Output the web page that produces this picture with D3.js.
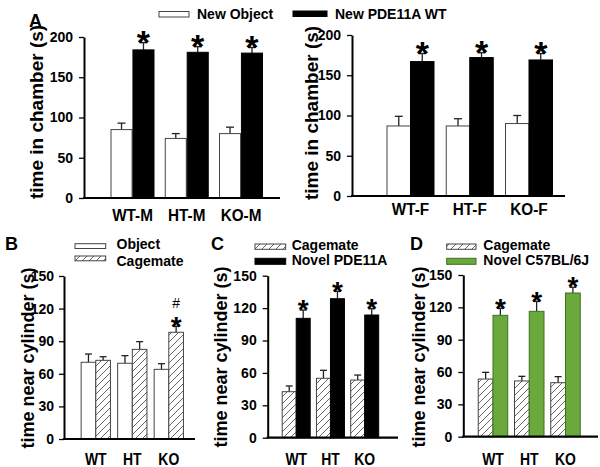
<!DOCTYPE html>
<html><head><meta charset="utf-8">
<script src="https://cdn.jsdelivr.net/npm/d3@7"></script>
<style>
html,body{margin:0;padding:0;background:#fff;}
svg{display:block;font-family:"Liberation Sans",Arial,sans-serif;font-weight:bold;}
</style></head>
<body><svg id="c" width="600" height="467"></svg>
<script>
// ---------- data ----------
const catsAM = ["WT-M","HT-M","KO-M"];
const catsAF = ["WT-F","HT-F","KO-F"];
const catsG  = ["WT","HT","KO"];
const ticksA = [0,50,100,150,200];
const ticksB = [0,30,60,90,120,150];

const newObjM = [85, 74, 80];     const newObjMErr = [8, 6, 8];
const pdeWTM  = [184, 181, 180];  const pdeWTMErr  = [9, 7, 7];
const newObjF = [87, 87, 90];     const newObjFErr = [12, 9, 10];
const pdeWTF  = [167, 172, 169];  const pdeWTFErr  = [10, 6, 8];

const objectB   = [70.6, 69.7, 64.1]; const objectBErr   = [7.6, 7.0, 5.2];
const cagemateB = [72.4, 82.5, 98.2]; const cagemateBErr = [3.3, 7.1, 5.5];
const cagemateC = [42.6, 55.0, 53.4]; const cagemateCErr = [5.3, 7.4, 4.6];
const novelPDE  = [110.5,128.7,113.6];const novelPDEErr  = [7.7, 6.8, 5.8];
const cagemateD = [53.5, 51.7, 50.1]; const cagemateDErr = [6.2, 4.3, 5.6];
const novelC57  = [112.6,116.3,133.3];const novelC57Err  = [6.5, 9.3, 5.3];

const sigA = ["*","*","*"];
const sigB = ["","","#*"];

// ---------- drawing ----------
const svg = d3.select("#c");
const defs = svg.append("defs");
const pat = defs.append("pattern").attr("id","hatch").attr("patternUnits","userSpaceOnUse")
  .attr("width",7).attr("height",7);
pat.append("rect").attr("width",7).attr("height",7).attr("fill","#fff");
pat.append("path").attr("d","M-1,1 l2,-2 M0,7 l7,-7 M6,8 l2,-2")
  .attr("stroke","#555").attr("stroke-width",0.9);

const styles = {
  white: {fill:"#fff", stroke:"#444"},
  black: {fill:"#000", stroke:"#000"},
  hatch: {fill:"url(#hatch)", stroke:"#444"},
  green: {fill:"#6aaa3c", stroke:"#3f6f22"}
};

function panel(o){
  const g = svg.append("g");
  const y = d3.scaleLinear().domain([0,o.max]).range([o.y0,o.yTop]);
  const cx = d3.scalePoint().domain(o.cats).range([o.c0,o.c2]);
  const sub = d3.scaleBand().domain(o.series.map((s,i)=>i)).range([-o.pairW/2,o.pairW/2]).paddingInner(o.gap||0);
  o.series.forEach((s,si)=>{
    const st = styles[s.style];
    o.cats.forEach((c,ci)=>{
      const x = cx(c)+sub(si), w = sub.bandwidth();
      const v = s.values[ci], e = s.err[ci];
      const mid = x+w/2;
      g.append("line").attr("x1",mid).attr("x2",mid).attr("y1",y(v)).attr("y2",y(v+e))
        .attr("stroke","#222").attr("stroke-width",1.3);
      g.append("line").attr("x1",mid-o.cap).attr("x2",mid+o.cap).attr("y1",y(v+e)).attr("y2",y(v+e))
        .attr("stroke","#222").attr("stroke-width",1.3);
      g.append("rect").attr("x",x).attr("y",y(v)).attr("width",w).attr("height",o.y0-y(v))
        .attr("fill",st.fill).attr("stroke",st.stroke).attr("stroke-width",1);
      const sig = s.sig ? s.sig[ci] : "";
      if(sig.includes("*")){
        g.append("text").attr("x",mid).attr("y",y(v+e)-2+o.starSize*0.4).attr("text-anchor","middle")
          .attr("font-size",o.starSize).text("*");
      }
      if(sig.includes("#")){
        g.append("text").attr("x",mid).attr("y",y(v+e)-18).attr("text-anchor","middle")
          .attr("font-size",14).attr("font-weight","normal").text("#");
      }
    });
  });
  const ax = g.append("g").attr("transform",`translate(${o.axisX},0)`)
    .call(d3.axisLeft(y).tickValues(o.ticks).tickSize(5).tickSizeOuter(0).tickPadding(o.tickPad||6));
  ax.select(".domain").attr("stroke","#000").attr("stroke-width",2);
  ax.selectAll(".tick line").attr("stroke","#000").attr("stroke-width",1.3);
  ax.selectAll(".tick text").attr("fill","#000").attr("font-size",o.tickFont||14)
    .attr("font-family","Liberation Sans, Arial, sans-serif").attr("font-weight","bold");
  g.append("line").attr("x1",o.axisX-1).attr("x2",o.axisEnd).attr("y1",o.y0).attr("y2",o.y0)
    .attr("stroke","#000").attr("stroke-width",2.2);
  o.cats.forEach(c=>{
    g.append("text").attr("transform",`translate(${cx(c)},${o.labY}) scale(${o.labSx},1)`)
      .attr("text-anchor","middle").attr("font-size",o.labFont).text(c);
  });
  g.append("text").attr("transform",`translate(${o.titleX},${o.titleY}) rotate(-90)`)
    .attr("text-anchor","middle").attr("font-size",o.titleFont).text(o.title);
}

function legendItem(x,yTop,w,h,style,label,tx,ty,fs){
  const st = styles[style];
  svg.append("rect").attr("x",x).attr("y",yTop).attr("width",w).attr("height",h)
    .attr("fill",st.fill).attr("stroke",st.stroke).attr("stroke-width",1);
  svg.append("text").attr("x",tx).attr("y",ty).attr("font-size",fs).text(label);
}

panel({cats:catsAM, max:200, ticks:ticksA, axisX:84, axisEnd:280, y0:198, yTop:37,
  c0:132.5, c2:241, pairW:43, gap:0.04, cap:4, starSize:34,
  series:[{values:newObjM, err:newObjMErr, style:"white"},
          {values:pdeWTM, err:pdeWTMErr, style:"black", sig:sigA}],
  labY:221, labFont:17, labSx:0.9, title:"time in chamber (s)", titleX:43, titleY:112, titleFont:19});
panel({cats:catsAF, max:200, ticks:ticksA, axisX:352, axisEnd:565, y0:196, yTop:35,
  c0:410.5, c2:529, pairW:47, gap:0, cap:4, starSize:34,
  series:[{values:newObjF, err:newObjFErr, style:"white"},
          {values:pdeWTF, err:pdeWTFErr, style:"black", sig:sigA}],
  labY:215, labFont:17, labSx:0.9, title:"time in chamber (s)", titleX:318, titleY:113, titleFont:19});
panel({cats:catsG, max:150, ticks:ticksB, axisX:64, axisEnd:195, y0:439, yTop:276,
  c0:95.8, c2:168.8, pairW:29.3, gap:0, cap:3.5, starSize:28, tickPad:5,
  series:[{values:objectB, err:objectBErr, style:"white"},
          {values:cagemateB, err:cagemateBErr, style:"hatch", sig:sigB}],
  labY:465, labFont:16, labSx:0.87, title:"time near cylinder (s)", titleX:34, titleY:358, titleFont:18});
panel({cats:catsG, max:150, ticks:ticksB, axisX:267.7, axisEnd:398, y0:437.7, yTop:275.7,
  c0:296.2, c2:364.7, pairW:28, gap:0, cap:3.5, starSize:28,
  series:[{values:cagemateC, err:cagemateCErr, style:"hatch"},
          {values:novelPDE, err:novelPDEErr, style:"black", sig:sigA}],
  labY:465, labFont:16, labSx:0.87, title:"time near cylinder (s)", titleX:227, titleY:357, titleFont:18});
panel({cats:catsG, max:150, ticks:ticksB, axisX:463.3, axisEnd:598, y0:436.7, yTop:275,
  c0:493, c2:565.5, pairW:29.5, gap:0, cap:3.5, starSize:28,
  series:[{values:cagemateD, err:cagemateDErr, style:"hatch"},
          {values:novelC57, err:novelC57Err, style:"green", sig:sigA}],
  labY:465, labFont:16, labSx:0.87, title:"time near cylinder (s)", titleX:425, titleY:357, titleFont:18});

legendItem(159,11.5,30,5.5,"white","New Object",197,18.5,14);
legendItem(293,11,34,5.5,"black","New PDE11A WT",335,18.5,14);
legendItem(75,243.7,30.7,4.8,"white","Object",116.5,249,14);
legendItem(75,256,30.7,4.8,"hatch","Cagemate",116.5,266,14);
legendItem(255,244,30.7,5.3,"hatch","Cagemate",291.7,250,14);
legendItem(255,258.3,30.7,6,"black","Novel PDE11A",291.7,265,14);
legendItem(446.7,244,29.3,5.3,"hatch","Cagemate",483.3,250,14);
legendItem(446.7,258.3,29.3,6,"green","Novel C57BL/6J",483.3,265,14);

[["A",29,27],["B",5,250],["C",211,250],["D",410,250]].forEach(([t,x,yy])=>{
  svg.append("text").attr("x",x).attr("y",yy).attr("font-size",18).text(t);
});
</script></body></html>
